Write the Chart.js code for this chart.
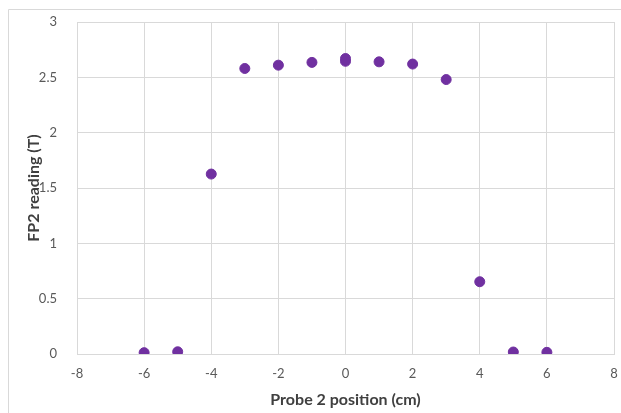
<!DOCTYPE html>
<html>
<head>
<meta charset="utf-8">
<script src="https://cdn.jsdelivr.net/npm/chart.js@4"></script>
<style>
    html, body { margin: 0; padding: 0; background: #fff; }
    #wrap { position: relative; width: 621px; height: 413px; }
</style>
</head>
<body>
<div id="wrap"><canvas id="chart"></canvas></div>
<script>
const positions = [-6, -5, -4, -3, -2, -1, 0, 0, 1, 2, 3, 4, 5, 6];
const readings = [0.012, 0.02, 1.626, 2.58, 2.61, 2.635, 2.67, 2.645, 2.64, 2.62, 2.48, 0.653, 0.018, 0.015];

const xTitle = 'Probe 2 position (cm)';
const yTitle = 'FP2 reading (T)';

const points = positions.map(function (x, i) { return { x: x, y: readings[i] }; });

const frame = {
    id: 'frame',
    beforeDraw: function (chart) {
        const c = chart.ctx;
        c.save();
        c.strokeStyle = '#d9d9d9';
        c.lineWidth = 1;
        c.beginPath();
        c.moveTo(8.5, 413);
        c.lineTo(8.5, 9.5);
        c.lineTo(621, 9.5);
        c.stroke();
        c.restore();
    }
};

const ctx = document.getElementById('chart');
ctx.chart = new Chart(ctx, {
    type: 'scatter',
    data: {
        datasets: [{
            data: points,
            backgroundColor: '#7030a0',
            borderColor: '#7030a0',
            pointRadius: 5,
            pointHoverRadius: 5
        }]
    },
    options: {
        responsive: true,
        maintainAspectRatio: false,
        animation: false,
        layout: { padding: { top: 22, right: 7, left: 20, bottom: 0 } },
        plugins: {
            legend: { display: false },
            tooltip: { enabled: false }
        },
        scales: {
            x: {
                min: -8,
                max: 8,
                ticks: {
                    stepSize: 2,
                    color: '#595959',
                    font: { family: 'Lato', size: 13 },
                    padding: 12
                },
                grid: { color: '#d9d9d9', drawTicks: false },
                border: { color: '#d9d9d9' },
                title: {
                    display: true,
                    text: xTitle,
                    color: '#404040',
                    font: { family: 'Lato', size: 16, weight: 'bold' },
                    padding: { top: 2 }
                },
                afterFit: function (scale) {
                    scale.height = 59;
                    scale.paddingLeft = 0;
                    scale.paddingRight = 0;
                }
            },
            y: {
                min: 0,
                max: 3,
                ticks: {
                    stepSize: 0.5,
                    color: '#595959',
                    font: { family: 'Lato', size: 13 },
                    padding: 20,
                    callback: function (value) { return String(value); }
                },
                grid: { color: '#d9d9d9', drawTicks: false },
                border: { color: '#d9d9d9' },
                title: {
                    display: true,
                    text: yTitle,
                    color: '#404040',
                    font: { family: 'Lato', size: 16, weight: 'bold' },
                    padding: { bottom: 0 }
                },
                afterFit: function (scale) {
                    scale.width = 57;
                    scale.paddingTop = 0;
                    scale.paddingBottom = 0;
                }
            }
        }
    },
    plugins: [frame]
});
</script>
</body>
</html>
